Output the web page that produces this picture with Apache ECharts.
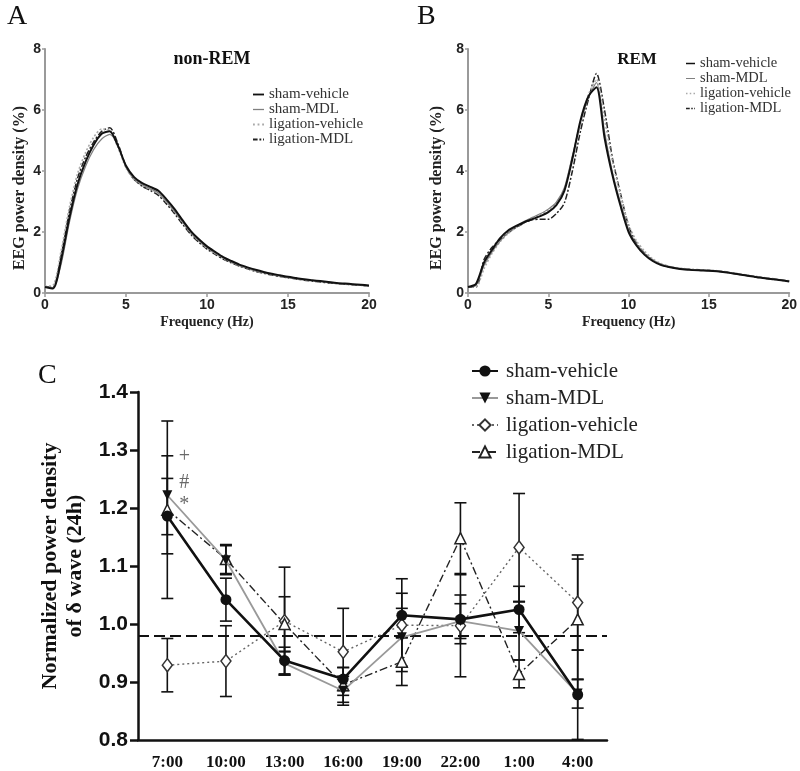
<!DOCTYPE html>
<html>
<head>
<meta charset="utf-8">
<script src="https://cdn.jsdelivr.net/npm/echarts@6/dist/echarts.min.js"></script>
<style>html,body{margin:0;padding:0;background:#fff}#c{width:800px;height:771px}</style>
</head>
<body>
<div id="c"></div>
<script>
// ---------- Data ----------
const freq = [0,0.5,1,1.5,2,2.5,3,3.5,4,4.5,5,5.5,6,6.5,7,7.5,8,8.5,9,9.5,10,10.5,11,11.5,12,12.5,13,13.5,14,14.5,15,15.5,16,16.5,17,17.5,18,18.5,19,19.5,20];
const groupNames = ['sham-vehicle','sham-MDL','ligation-vehicle','ligation-MDL'];

// Panel A: non-REM
const nremShamVehicle = [0.2,0.15,1.1,2.45,3.55,4.3,4.85,5.22,5.3,4.83,4.17,3.8,3.6,3.48,3.35,3.07,2.75,2.38,2.03,1.76,1.53,1.35,1.18,1.05,0.93,0.84,0.76,0.69,0.63,0.58,0.53,0.49,0.45,0.42,0.39,0.36,0.33,0.31,0.29,0.27,0.25];
const nremShamMDL = [0.2,0.18,0.95,2.3,3.4,4.15,4.7,5.05,5.2,4.85,4.12,3.75,3.55,3.42,3.28,3.0,2.68,2.32,1.98,1.71,1.49,1.31,1.15,1.02,0.9,0.81,0.73,0.67,0.61,0.56,0.51,0.47,0.44,0.41,0.38,0.35,0.32,0.3,0.28,0.26,0.24];
const nremLigVehicle = [0.22,0.25,1.4,2.8,3.9,4.6,5.1,5.38,5.32,4.78,4.1,3.72,3.52,3.4,3.26,2.98,2.66,2.3,1.96,1.69,1.47,1.29,1.13,1.0,0.89,0.8,0.72,0.66,0.6,0.55,0.5,0.46,0.43,0.4,0.37,0.34,0.31,0.29,0.27,0.25,0.23];
const nremLigMDL = [0.2,0.2,1.25,2.65,3.75,4.45,4.95,5.3,5.42,4.9,4.15,3.72,3.5,3.36,3.2,2.92,2.6,2.25,1.92,1.66,1.44,1.27,1.11,0.99,0.88,0.79,0.71,0.65,0.59,0.54,0.5,0.46,0.42,0.39,0.36,0.33,0.31,0.29,0.27,0.25,0.23];

// Panel B: REM
const remShamVehicle = [0.2,0.3,1.0,1.42,1.8,2.05,2.2,2.32,2.42,2.52,2.65,2.88,3.35,4.4,5.65,6.45,6.75,5.1,3.85,2.85,2.0,1.55,1.25,1.05,0.92,0.85,0.8,0.77,0.75,0.74,0.73,0.71,0.68,0.64,0.6,0.56,0.52,0.48,0.45,0.42,0.38];
const remShamMDL = [0.2,0.25,0.9,1.35,1.7,1.98,2.18,2.35,2.48,2.6,2.75,2.98,3.45,4.5,5.6,6.4,6.9,5.3,3.95,2.95,2.08,1.6,1.3,1.08,0.95,0.87,0.82,0.79,0.77,0.75,0.74,0.72,0.69,0.65,0.61,0.57,0.53,0.49,0.46,0.43,0.39];
const remLigVehicle = [0.2,0.2,0.8,1.3,1.68,1.95,2.15,2.3,2.45,2.58,2.72,2.95,3.4,4.45,5.55,6.5,7.0,5.7,4.3,3.2,2.25,1.7,1.37,1.12,0.97,0.88,0.83,0.8,0.78,0.76,0.75,0.73,0.7,0.66,0.62,0.58,0.54,0.5,0.47,0.43,0.4];
const remLigMDL = [0.2,0.2,1.1,1.5,1.75,1.98,2.15,2.3,2.4,2.42,2.42,2.6,2.95,4.0,5.3,6.35,7.2,6.0,4.4,3.25,2.2,1.62,1.3,1.08,0.93,0.86,0.81,0.78,0.76,0.75,0.74,0.72,0.69,0.65,0.6,0.56,0.52,0.48,0.45,0.42,0.38];

// Panel C: normalized delta power (mean, SEM)
const times = ['7:00','10:00','13:00','16:00','19:00','22:00','1:00','4:00'];
const deltaShamVehicle = [1.186,1.042,0.937,0.905,1.015,1.008,1.025,0.878];
const deltaShamVehicleErr = [0.065,0.037,0.023,0.02,0.038,0.042,0.04,0.077];
const deltaShamMDL = [1.222,1.11,0.932,0.885,0.977,1.005,0.988,0.88];
const deltaShamMDLErr = [0.068,0.025,0.02,0.025,0.05,0.03,0.05,0.025];
const deltaLigVehicle = [0.929,0.936,1.005,0.952,0.998,0.997,1.132,1.037];
const deltaLigVehicleErr = [0.046,0.061,0.093,0.075,0.08,0.088,0.093,0.082];
const deltaLigMDL = [1.197,1.112,1.0,0.895,0.935,1.148,0.914,1.008];
const deltaLigMDLErr = [0.153,0.025,0.047,0.03,0.041,0.061,0.024,0.104];
const baseline = 0.976;
const sigMarks = ['+','#','*'];
const sigMarkValues = [1.288,1.243,1.205];

// ---------- Styles ----------
const SERIF = "'Liberation Serif','Times New Roman',serif";
const SANS = "'Liberation Sans',Arial,sans-serif";
const NARROW = "'Liberation Sans Narrow','Liberation Sans',Arial,sans-serif";

const curveStyles = [
  {color:'#111', width:2, type:'solid'},
  {color:'#808080', width:1.2, type:'solid'},
  {color:'#aaaaaa', width:1.6, type:[2,2]},
  {color:'#222', width:1.5, type:[6,2,2,2]}
];
// short line glyphs used as legend keys in panels A and B
const legendLineIcons = [
  'path://M0,0h12v2h-12z',
  'path://M0,0h12v1.4h-12z',
  'path://M0,0h2v2h-2z M5,0h2v2h-2z M10,0h2v2h-2z',
  'path://M0,0h5v2h-5z M7,0h2v2h-2z M11,0h1v2h-1z'
];

function pairs(xs, ys){ return xs.map((x,i)=>[x, ys[i]]); }

function curveSeries(prefix, idx, arrays){
  return arrays.map((arr,k)=>({
    name: prefix + ':' + groupNames[k],
    type:'line', xAxisIndex: idx, yAxisIndex: idx,
    data: pairs(freq, arr),
    symbol:'none', showSymbol:false, smooth: 0.25,
    lineStyle:{color:curveStyles[k].color, width:curveStyles[k].width, type:curveStyles[k].type},
    itemStyle:{color:curveStyles[k].color},
    z: 10 - k
  }));
}

function freqXAxis(gi){
  return {
    gridIndex: gi, type:'value', min:0, max:20, interval:5,
    name:'Frequency (Hz)', nameLocation:'middle', nameGap:22,
    nameTextStyle:{fontFamily:SERIF, fontWeight:'bold', fontSize:14, color:'#222'},
    axisLine:{show:true, lineStyle:{color:'#9a9a9a', width:2}},
    axisTick:{show:true, length:4, lineStyle:{color:'#9a9a9a', width:1.5}},
    axisLabel:{fontFamily:NARROW, fontWeight:'bold', fontSize:14, color:'#222', margin:5},
    splitLine:{show:false}
  };
}
function powerYAxis(gi, gap){
  return {
    gridIndex: gi, type:'value', min:0, max:8, interval:2,
    name:'EEG power density (%)', nameLocation:'middle', nameGap:gap, nameRotate:90,
    nameTextStyle:{fontFamily:SERIF, fontWeight:'bold', fontSize:16, color:'#222', padding:[0,34,0,0]},
    axisLine:{show:true, lineStyle:{color:'#9a9a9a', width:2}},
    axisTick:{show:true, length:3, lineStyle:{color:'#9a9a9a', width:1.5}},
    axisLabel:{fontFamily:NARROW, fontWeight:'bold', fontSize:14, color:'#222', margin:4},
    splitLine:{show:false}
  };
}

function errSeries(name, means, errs){
  return {
    name: name + '-err', type:'custom', xAxisIndex:2, yAxisIndex:2, z: 3,
    data: means.map((m,i)=>[i, m - errs[i], m + errs[i]]),
    renderItem: function(params, api){
      const i = api.value(0);
      const lo = api.coord([i, api.value(1)]);
      const hi = api.coord([i, api.value(2)]);
      const w = 6;
      const st = {stroke:'#111', lineWidth:1.6};
      return {type:'group', children:[
        {type:'line', shape:{x1:lo[0], y1:lo[1], x2:hi[0], y2:hi[1]}, style:st},
        {type:'line', shape:{x1:lo[0]-w, y1:lo[1], x2:lo[0]+w, y2:lo[1]}, style:st},
        {type:'line', shape:{x1:hi[0]-w, y1:hi[1], x2:hi[0]+w, y2:hi[1]}, style:st}
      ]};
    }
  };
}

const invTri = 'path://M0,0 L10,0 L5,10 Z';

const seriesC = [
  {name:'C:ligation-vehicle', type:'line', xAxisIndex:2, yAxisIndex:2, data:deltaLigVehicle,
   symbol:'diamond', symbolSize:[10,13], showAllSymbol:true,
   lineStyle:{color:'#666', width:1.4, type:[2,3]},
   itemStyle:{color:'#fff', borderColor:'#333', borderWidth:1.5}, z:5},
  {name:'C:ligation-MDL', type:'line', xAxisIndex:2, yAxisIndex:2, data:deltaLigMDL,
   symbol:'triangle', symbolSize:11,
   lineStyle:{color:'#222', width:1.4, type:[8,3,2,3]},
   itemStyle:{color:'#fff', borderColor:'#222', borderWidth:1.5}, z:6},
  {name:'C:sham-MDL', type:'line', xAxisIndex:2, yAxisIndex:2, data:deltaShamMDL,
   symbol:invTri, symbolSize:[10,10],
   lineStyle:{color:'#999', width:1.8},
   itemStyle:{color:'#111'}, z:7},
  {name:'C:sham-vehicle', type:'line', xAxisIndex:2, yAxisIndex:2, data:deltaShamVehicle,
   symbol:'circle', symbolSize:11,
   lineStyle:{color:'#111', width:2.6},
   itemStyle:{color:'#111'}, z:8,
   markLine:{silent:true, symbol:'none', label:{show:false},
     lineStyle:{color:'#111', width:2, type:[11,5]},
     data:[{yAxis: baseline}]}},
  errSeries('sham-vehicle', deltaShamVehicle, deltaShamVehicleErr),
  errSeries('sham-MDL', deltaShamMDL, deltaShamMDLErr),
  errSeries('ligation-vehicle', deltaLigVehicle, deltaLigVehicleErr),
  errSeries('ligation-MDL', deltaLigMDL, deltaLigMDLErr),
  {name:'sig', type:'scatter', xAxisIndex:2, yAxisIndex:2, z:9,
   symbol:'circle', symbolSize:0.1, itemStyle:{color:'rgba(0,0,0,0)'},
   data: sigMarks.map((m,i)=>[0, sigMarkValues[i], m]),
   label:{show:true, position:'inside', offset:[17,0], formatter:p=>p.data[2],
     fontFamily:SERIF, fontSize:20, color:'#444'}}
];

const legendFmt = n => n.split(':')[1];

const option = {
  animation:false,
  backgroundColor:'#fff',
  title:[
    {text:'A', left:2, top:-2, textStyle:{fontFamily:SERIF, fontSize:28, fontWeight:'normal', color:'#111'}},
    {text:'B', left:412, top:-2, textStyle:{fontFamily:SERIF, fontSize:28, fontWeight:'normal', color:'#111'}},
    {text:'C', left:33, top:357, textStyle:{fontFamily:SERIF, fontSize:28, fontWeight:'normal', color:'#111'}},
    {text:'non-REM', left:207, top:45, textAlign:'center', textStyle:{fontFamily:SERIF, fontSize:18, fontWeight:'bold', color:'#111'}},
    {text:'REM', left:632, top:46, textAlign:'center', textStyle:{fontFamily:SERIF, fontSize:17, fontWeight:'bold', color:'#111'}}
  ],
  legend:[
    {orient:'vertical', left:248, top:82, itemWidth:11, itemHeight:10, itemGap:0,
     data: groupNames.map((n,k)=>({name:'A:'+n, icon:legendLineIcons[k]})), formatter:legendFmt, selectedMode:false,
     textStyle:{fontFamily:SERIF, fontSize:15, color:'#333', lineHeight:15, padding:[0,0,0,0]}},
    {orient:'vertical', left:681, top:51, itemWidth:9, itemHeight:10, itemGap:0,
     data: groupNames.map((n,k)=>({name:'B:'+n, icon:legendLineIcons[k]})), formatter:legendFmt, selectedMode:false,
     textStyle:{fontFamily:SERIF, fontSize:14.5, color:'#333', lineHeight:14.7, padding:[0,0,0,0]}},
    {orient:'vertical', left:466, top:354, itemWidth:26, itemHeight:14, itemGap:3,
     data: groupNames.map(n=>'C:'+n), formatter:legendFmt, selectedMode:false,
     textStyle:{fontFamily:SERIF, fontSize:21, color:'#222', lineHeight:24, padding:[0,0,0,3]}}
  ],
  grid:[
    {left:45, top:49, width:324, height:244},
    {left:468, top:49, width:322, height:244},
    {left:138, top:392, width:469, height:351}
  ],
  xAxis:[
    freqXAxis(0), freqXAxis(1),
    {gridIndex:2, type:'category', data:times, boundaryGap:true,
     axisLine:{lineStyle:{color:'#111', width:2.5}},
     axisTick:{alignWithLabel:true, length:7, lineStyle:{color:'#111', width:2}},
     axisLabel:{fontFamily:SERIF, fontWeight:'bold', fontSize:17, color:'#111', margin:14}}
  ],
  yAxis:[
    powerYAxis(0, 17), powerYAxis(1, 23),
    {gridIndex:2, type:'value', min:0.8, max:1.4, interval:0.1,
     name:'Normalized power density\nof δ wave (24h)', nameLocation:'middle', nameRotate:90, nameGap:44,
     nameTextStyle:{fontFamily:SERIF, fontWeight:'bold', fontSize:22, color:'#111', lineHeight:25},
     axisLine:{show:true, lineStyle:{color:'#111', width:2.5}},
     axisTick:{show:true, length:8, lineStyle:{color:'#111', width:2.5}},
     axisLabel:{fontFamily:SANS, fontWeight:'bold', fontSize:21, color:'#111', margin:10, formatter:v=>v.toFixed(1)},
     splitLine:{show:false}}
  ],
  series:[].concat(
    curveSeries('A', 0, [nremShamVehicle, nremShamMDL, nremLigVehicle, nremLigMDL]),
    curveSeries('B', 1, [remShamVehicle, remShamMDL, remLigVehicle, remLigMDL]),
    seriesC
  )
};

const chart = echarts.init(document.getElementById('c'), null, {renderer:'canvas'});
chart.setOption(option);
</script>
</body>
</html>
